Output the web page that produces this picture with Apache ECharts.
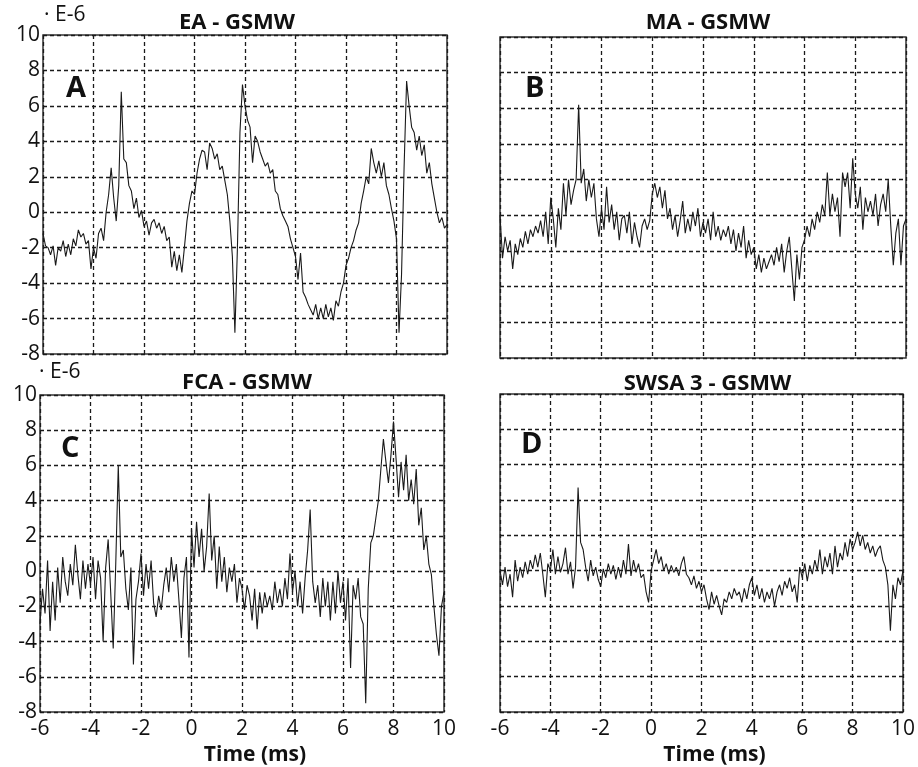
<!DOCTYPE html>
<html>
<head>
<meta charset="utf-8">
<script src="https://cdn.jsdelivr.net/npm/echarts@6/dist/echarts.min.js"></script>
<style>
  html, body { margin: 0; padding: 0; background: #fff; }
  #chart { width: 918px; height: 767px; }
</style>
</head>
<body>
<div id="chart"></div>
<script>
// sample times (ms), one every 0.1 ms from -6 to 10
const timeMs = Array.from({ length: 161 }, (_, i) => Math.round((-6 + i * 0.1) * 10) / 10);

// values in units of E-6
const eaGsmw = [
  -1.2, -1.9, -2.0, -2.4, -1.9, -3.0, -2.0, -2.2, -1.6, -2.5,
  -1.8, -2.4, -1.5, -1.9, -1.0, -1.4, -1.2, -1.8, -1.6, -3.2,
  -2.0, -2.6, -1.2, -0.9, -1.6, 0.0, 1.0, 2.5, 0.8, -0.5,
  1.5, 6.8, 3.0, 2.8, 1.5, 1.2, 0.2, 0.8, -0.3, 0.1,
  -0.8, -0.5, -1.3, -0.6, -0.4, -0.9, -0.6, -1.2, -0.8, -1.6,
  -1.4, -3.1, -2.2, -3.3, -2.4, -3.4, -2.0, -0.5, 0.5, 1.2,
  1.0, 2.2, 3.0, 3.5, 3.4, 2.4, 3.9, 3.6, 3.0, 3.3,
  2.4, 2.6, 1.8, 1.0, -0.5, -2.5, -6.8, -2.0, 4.5, 7.2,
  6.0, 5.2, 4.8, 2.8, 4.3, 4.0, 3.4, 3.0, 2.6, 2.8,
  2.2, 2.4, 1.2, 1.0, 0.2, -0.2, -0.5, -0.8, -1.5, -2.0,
  -2.5, -3.8, -2.3, -4.5, -4.8, -5.2, -5.5, -5.8, -5.2, -6.0,
  -5.4, -6.0, -5.2, -5.9, -5.4, -6.1, -5.0, -5.3, -4.5, -4.0,
  -3.0, -2.6, -2.0, -1.6, -1.0, -0.6, 0.5, 1.2, 2.0, 1.6,
  3.6, 2.8, 2.2, 2.9, 2.0, 2.8, 1.5, 1.0, 0.2, -0.5,
  -1.5, -6.8, -3.5, 2.5, 7.4, 6.0, 4.8, 4.5, 3.5, 4.3,
  3.2, 3.8, 2.2, 2.8, 1.6, 0.8, 0.0, -0.6, -0.3, -0.9,
  -0.7
];

const maGsmw = [
  0.0, -2.4, -1.2, -2.0, -1.4, -3.0, -1.6, -2.2, -1.3, -1.8,
  -0.9, -1.6, -0.8, -1.2, -0.6, -1.0, -0.3, -1.2, 0.2, -1.6,
  1.0, -0.2, -1.8, 0.4, -0.8, 1.8, 0.0, 2.0, 0.6, 1.4,
  2.0, 6.2, 1.8, 2.6, 0.8, 2.0, 1.0, 1.8, -0.2, -1.2,
  0.4, -0.8, 1.6, -0.4, 0.6, -0.8, 0.2, -1.4, -0.2, 0.0,
  -1.0, 0.2, -1.6, -0.4, -1.2, -1.8, -0.6, -0.2, -0.8, -0.3,
  1.2, 1.8, 1.0, 1.6, 0.4, 1.4, -0.2, 0.4, -0.8, 0.0,
  -1.2, -0.3, 0.8, -1.0, -0.2, -0.9, 0.2, -0.6, 0.4, -1.2,
  -0.4, -1.0, -0.2, -1.4, 0.2, -1.2, -0.6, -1.4, -0.8, -1.2,
  -0.6, -1.6, -0.8, -2.0, -1.0, -1.8, -0.6, -2.4, -1.4, -2.2,
  -1.8, -3.0, -2.2, -3.2, -2.4, -3.0, -2.6, -2.2, -2.8, -1.8,
  -2.6, -1.6, -3.2, -2.0, -1.2, -3.0, -4.8, -2.2, -3.6, -1.8,
  -1.4, -0.6, -1.2, -0.2, -0.8, 0.2, -0.4, 0.6, 0.0, 2.4,
  0.0, 1.2, 0.2, 1.0, -1.2, 2.4, 1.6, 2.4, 0.4, 3.2,
  1.2, 0.4, 1.6, -0.8, 1.0, 0.2, 0.8, 0.0, 1.2, -0.6,
  0.6, 1.2, 0.2, 2.0, -0.6, -2.8, -1.0, -0.2, -2.8, -0.6,
  -0.2
];

const fcaGsmw = [
  -3.0, -1.0, -2.4, 0.6, -3.4, -0.6, -2.8, 0.2, -1.8, 0.8,
  -0.6, -1.4, 0.4, -0.8, 1.5, -0.2, -1.6, 0.6, -1.0, 0.4,
  -0.8, 0.8, -1.6, 0.6, -0.4, -4.0, 0.2, 1.8, -1.2, -4.4,
  0.4, 6.0, 0.8, 1.2, -1.0, -2.2, 0.2, -5.3, -1.6, -0.6,
  1.0, -1.4, 0.4, -1.0, 0.6, -1.8, -2.6, -1.4, -2.2, -0.8,
  0.2, -1.2, 0.8, -0.6, 0.4, -1.6, -3.8, -0.4, 0.8, -4.9,
  2.4, 0.2, 2.8, 0.8, 2.4, 0.0, 1.4, 4.4, 0.6, 2.0,
  -1.0, 1.4, -0.6, 0.8, -1.2, 0.2, -0.6, 0.4, -1.8, -0.4,
  -1.0, -2.2, -0.8, -1.4, -2.8, -1.0, -3.3, -1.2, -2.4, -1.2,
  -2.0, -1.4, -2.2, -0.6, -1.8, -1.0, -2.0, -0.4, -1.6, 1.0,
  -1.2, 0.0, -2.0, -0.6, -2.4, -0.4, 1.2, 3.5, -0.6, -1.8,
  -0.8, -2.6, -0.4, -2.0, -0.6, -2.8, -0.6, -2.4, 0.0, -1.8,
  -0.6, -2.8, -0.4, -5.5, -0.8, -1.6, -0.4, -2.6, -3.0, -7.5,
  -1.0, 1.6, 2.0, 3.0, 4.0, 5.8, 7.5, 6.2, 5.0, 6.6,
  8.5, 6.4, 4.2, 6.2, 4.6, 6.6, 4.0, 5.2, 3.8, 5.8,
  2.6, 3.6, 1.2, 2.0, 0.4, -0.2, -2.0, -3.6, -4.8, -2.0,
  -1.2
];

const swsa3Gsmw = [
  0.0, -0.8, 0.2, -0.9, -0.2, -1.5, 0.6, -0.6, 0.2, -0.4,
  0.5, -0.2, 0.6, 0.1, 0.9, 0.2, 1.0, -0.2, -1.5, 0.4,
  0.0, 1.2, -0.2, 0.8, -0.1, 0.4, 1.3, -0.2, 0.5, -1.0,
  0.2, 4.7, 1.6, 1.2, 0.2, -0.6, 0.6, -0.3, 0.2, -0.5,
  -0.9, 0.1, -0.4, 0.4, -0.2, 0.3, -0.5, 0.2, -0.4, 0.6,
  -0.2, 1.5, -0.3, 0.6, -0.1, 0.4, -0.4, -0.2, -1.2, -1.8,
  0.0, 0.6, 1.2, 0.4, 0.8, 0.0, 0.4, -0.2, 0.3, -0.1,
  0.2, -0.3, 0.4, 0.8, -0.2, -0.4, -0.8, -0.3, -1.0, -0.6,
  -1.2, -0.8, -1.6, -2.2, -1.2, -1.9, -1.4, -2.0, -2.5, -1.6,
  -1.8, -1.2, -1.6, -1.0, -1.4, -1.2, -1.8, -1.0, -1.6, -0.8,
  -0.4, -1.4, -0.8, -1.6, -1.0, -1.8, -1.2, -1.6, -1.0, -2.0,
  -1.2, -0.8, -1.4, -0.6, -1.0, -0.4, -1.2, -0.8, -1.8, 0.2,
  -0.4, 0.4, -0.6, 0.3, -0.2, 0.6, 0.0, 1.2, -0.2, 0.8,
  0.2, 1.0, -0.2, 1.4, 0.2, 1.0, 0.6, 1.6, 0.8, 1.8,
  1.2, 1.6, 2.2, 1.4, 2.0, 1.2, 1.6, 1.0, 1.4, 0.8,
  1.2, 1.4, 0.6, 0.2, -0.8, -3.4, -0.8, -1.6, -0.4, -0.8,
  0.0
];

const panelTitles = ['EA - GSMW', 'MA - GSMW', 'FCA - GSMW', 'SWSA 3 - GSMW'];
const panelLetters = ['A', 'B', 'C', 'D'];
const xTicks = { min: -6, max: 10, interval: 2 };
const yTicks = { min: -8, max: 10, interval: 2 };

const FONT = '"Open Sans", "DejaVu Sans", sans-serif';

const grids = [
  { left: 43, top: 35, width: 404, height: 319 },
  { left: 500, top: 37, width: 406, height: 321 },
  { left: 40, top: 395, width: 404, height: 318 },
  { left: 500, top: 394, width: 405, height: 319 }
];

const gridLine = { show: true, lineStyle: { color: '#1a1a1a', width: 1.3, type: [4, 3] } };

const chart = echarts.init(document.getElementById('chart'));

const option = {
  backgroundColor: '#fff',
  animation: false,
  title: grids.map((g, i) => ({
    text: panelTitles[i],
    left: g.left + g.width / 2 + (i === 0 ? -13 : 0),
    top: [7, 7, 367, 368][i],
    textAlign: 'center',
    textStyle: { fontFamily: FONT, fontSize: 22, fontWeight: 'bold', color: '#111' }
  })),
  grid: grids.map(g => Object.assign({ show: true, borderColor: '#333', borderWidth: 1.5, backgroundColor: '#fff' }, g)),
  xAxis: grids.map((g, i) => ({
    type: 'value',
    gridIndex: i,
    min: xTicks.min, max: xTicks.max, interval: xTicks.interval,
    name: i >= 2 ? 'Time (ms)' : '',
    nameLocation: 'middle',
    nameGap: 33,
    nameTextStyle: { fontFamily: FONT, fontSize: 21, fontWeight: 'bold', color: '#111', padding: [0, 0, 0, 26] },
    axisLine: { show: false },
    axisTick: { show: false },
    axisLabel: { show: i >= 2, fontFamily: FONT, fontSize: 21, color: '#111', margin: 7 },
    splitLine: gridLine
  })),
  yAxis: grids.map((g, i) => ({
    type: 'value',
    gridIndex: i,
    min: yTicks.min, max: yTicks.max, interval: yTicks.interval,
    axisLine: { show: false },
    axisTick: { show: false },
    axisLabel: { show: i % 2 === 0, fontFamily: FONT, fontSize: 21, color: '#111', margin: 3 },
    splitLine: gridLine
  })),
  series: [eaGsmw, maGsmw, fcaGsmw, swsa3Gsmw].map((vals, i) => ({
    type: 'line',
    xAxisIndex: i,
    yAxisIndex: i,
    data: timeMs.map((t, k) => [t, vals[k]]),
    showSymbol: false,
    lineStyle: { color: '#1a1a1a', width: 1.1 },
    z: 3
  })),
  graphic: [
    { type: 'text', left: 44, top: 5, style: { text: '· E-6', fontFamily: FONT, fontSize: 21, fill: '#111' } },
    { type: 'text', left: 39, top: 362, style: { text: '· E-6', fontFamily: FONT, fontSize: 21, fill: '#111' } }
  ].concat(grids.map((g, i) => ({
    type: 'text',
    left: [66, 525, 61, 521][i],
    top: [74, 74, 434, 430][i],
    z: 10,
    style: { text: panelLetters[i], fontFamily: FONT, fontSize: 29, fontWeight: 'bold', fill: '#111' }
  })))
};

chart.setOption(option);
</script>
</body>
</html>
